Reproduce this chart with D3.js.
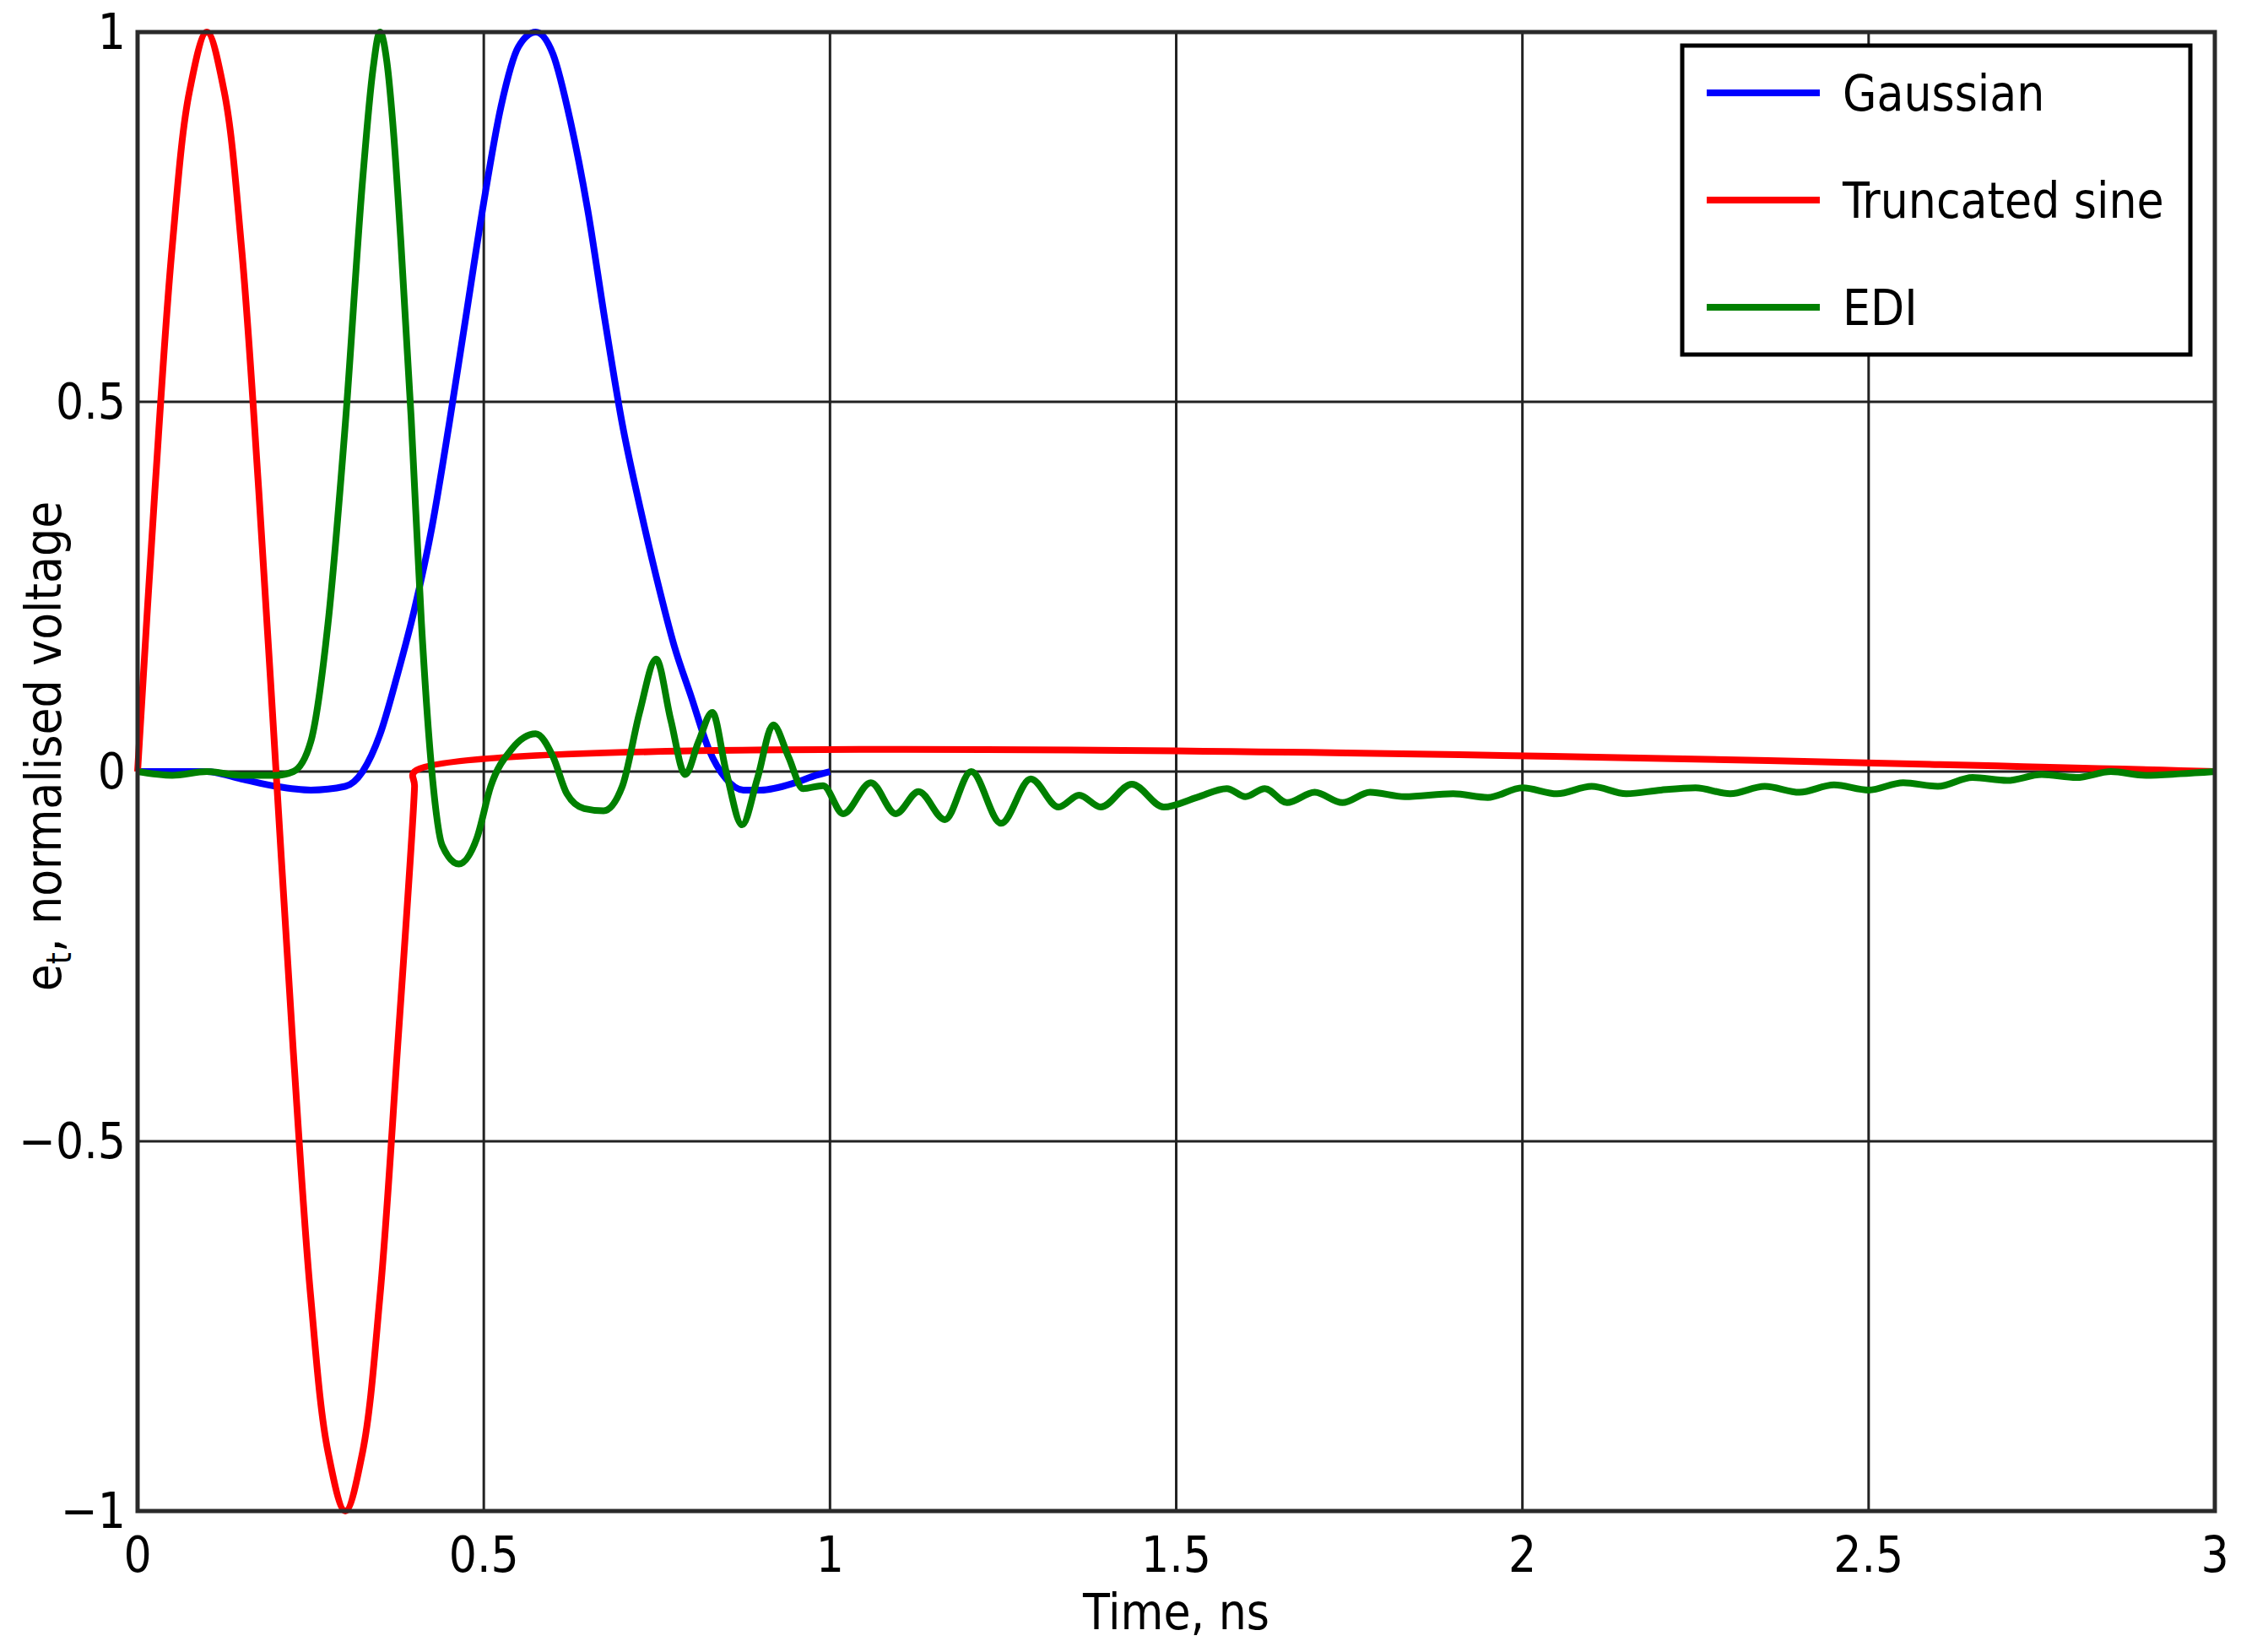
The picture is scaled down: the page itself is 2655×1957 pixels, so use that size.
<!DOCTYPE html>
<html>
<head>
<meta charset="utf-8">
<script src="https://cdn.jsdelivr.net/npm/d3@7"></script>
<style>
  body { margin: 0; background: #fff; }
  text { font-family: "Liberation Sans Narrow", "DejaVu Sans Condensed", "Liberation Sans", sans-serif; fill: #000; }
</style>
</head>
<body>
<svg id="chart" width="2655" height="1957"></svg>
<script>
// ticks
var xTicks = [0, 0.5, 1, 1.5, 2, 2.5, 3];
var xTickLabels = ["0", "0.5", "1", "1.5", "2", "2.5", "3"];
var yTicks = [-1, -0.5, 0, 0.5, 1];
var yTickLabels = ["\u22121", "\u22120.5", "0", "0.5", "1"];

// Gaussian pulse
var gaussT = [0, 0.1, 0.15, 0.2, 0.25, 0.3, 0.325, 0.35, 0.375, 0.4, 0.425, 0.45, 0.475, 0.5, 0.525, 0.55, 0.575, 0.6, 0.625, 0.65, 0.675, 0.7, 0.725, 0.75, 0.775, 0.8, 0.825, 0.85, 0.875, 0.9, 0.95, 0.98, 1.0];
var gaussV = [0, 0, -0.01, -0.02, -0.025, -0.02, 0, 0.05, 0.13, 0.22, 0.33, 0.47, 0.62, 0.77, 0.9, 0.98, 1.0, 0.97, 0.88, 0.76, 0.61, 0.47, 0.36, 0.26, 0.17, 0.1, 0.03, -0.01, -0.025, -0.025, -0.015, -0.005, 0];

// truncated sine
var sineT = [0, 0.025, 0.05, 0.075, 0.1, 0.125, 0.15, 0.175, 0.2, 0.225, 0.25, 0.275, 0.3, 0.325, 0.35, 0.375, 0.4, 0.4, 3.0];
var sineV = [0, 0.38, 0.71, 0.92, 1.0, 0.92, 0.71, 0.38, 0, -0.38, -0.71, -0.92, -1.0, -0.92, -0.71, -0.38, -0.02, 0, 0];

// EDI
var ediT = [0, 0.05, 0.1, 0.15, 0.2, 0.225, 0.25, 0.275, 0.3, 0.325, 0.34, 0.35, 0.36, 0.37, 0.38, 0.395, 0.41, 0.425, 0.44, 0.464, 0.49, 0.51, 0.54, 0.575, 0.6, 0.62, 0.645, 0.673, 0.7, 0.725, 0.749, 0.77, 0.791, 0.81, 0.83, 0.85, 0.873, 0.895, 0.918, 0.94, 0.961, 0.99, 1.019, 1.059, 1.095, 1.128, 1.166, 1.204, 1.247, 1.29, 1.33, 1.36, 1.391, 1.436, 1.482, 1.53, 1.573, 1.6, 1.628, 1.66, 1.7, 1.74, 1.78, 1.83, 1.9, 1.95, 2.0, 2.05, 2.1, 2.15, 2.2, 2.25, 2.3, 2.35, 2.4, 2.45, 2.5, 2.55, 2.6, 2.65, 2.7, 2.75, 2.8, 2.85, 2.9, 2.95, 3.0];
var ediV = [0, -0.005, 0, -0.005, -0.005, 0, 0.04, 0.2, 0.47, 0.8, 0.95, 1.0, 0.96, 0.86, 0.72, 0.48, 0.2, 0.0, -0.1, -0.125, -0.09, -0.02, 0.03, 0.051, 0.02, -0.03, -0.05, -0.053, -0.02, 0.08, 0.152, 0.07, -0.004, 0.04, 0.08, 0.0, -0.072, -0.01, 0.063, 0.02, -0.023, -0.019, -0.057, -0.015, -0.057, -0.027, -0.065, 0.0, -0.07, -0.01, -0.048, -0.032, -0.048, -0.017, -0.048, -0.035, -0.023, -0.034, -0.023, -0.042, -0.028, -0.042, -0.028, -0.034, -0.03, -0.035, -0.022, -0.03, -0.02, -0.03, -0.025, -0.022, -0.03, -0.02, -0.028, -0.018, -0.025, -0.015, -0.02, -0.008, -0.012, -0.004, -0.008, 0.0, -0.005, -0.003, 0.0];

var seriesNames = ["Gaussian", "Truncated sine", "EDI"];
var seriesColors = ["#0000ff", "#ff0000", "#008000"];
var seriesCurves = [d3.curveMonotoneX, d3.curveCatmullRom.alpha(0.5), d3.curveMonotoneX];

var svg = d3.select("#chart");
var m = { left: 163, right: 2624, top: 38, bottom: 1790 };

var x = d3.scaleLinear().domain([0, 3]).range([m.left, m.right]);
var y = d3.scaleLinear().domain([-1, 1]).range([m.bottom, m.top]);

// grid
svg.append("g").selectAll("line.gx")
	.data(xTicks.slice(1, -1))
	.enter().append("line")
		.attr("x1", function(d) { return x(d); }).attr("x2", function(d) { return x(d); })
		.attr("y1", m.top).attr("y2", m.bottom)
		.attr("stroke", "#222").attr("stroke-width", 3);
svg.append("g").selectAll("line.gy")
	.data(yTicks.slice(1, -1))
	.enter().append("line")
		.attr("x1", m.left).attr("x2", m.right)
		.attr("y1", function(d) { return y(d); }).attr("y2", function(d) { return y(d); })
		.attr("stroke", "#222").attr("stroke-width", 3);

// curves: blue, red, then green on top
var series = [d3.zip(gaussT, gaussV), d3.zip(sineT, sineV), d3.zip(ediT, ediV)];
svg.append("g").selectAll("path")
	.data(series)
	.enter().append("path")
		.attr("d", function(d, i) {
			return d3.line()
				.x(function(p) { return x(p[0]); })
				.y(function(p) { return y(p[1]); })
				.curve(seriesCurves[i])(d);
		})
		.attr("fill", "none")
		.attr("stroke", function(d, i) { return seriesColors[i]; })
		.attr("stroke-width", 8);

// axes box
svg.append("rect")
	.attr("x", m.left).attr("y", m.top)
	.attr("width", m.right - m.left).attr("height", m.bottom - m.top)
	.attr("fill", "none").attr("stroke", "#2a2a2a").attr("stroke-width", 5);

// tick labels
svg.append("g").selectAll("text")
	.data(xTicks)
	.enter().append("text")
		.attr("x", function(d) { return x(d); })
		.attr("y", m.bottom + 72)
		.attr("text-anchor", "middle")
		.attr("font-size", 58)
		.text(function(d, i) { return xTickLabels[i]; });
svg.append("g").selectAll("text")
	.data(yTicks)
	.enter().append("text")
		.attr("x", m.left - 14)
		.attr("y", function(d) { return y(d) + 20; })
		.attr("text-anchor", "end")
		.attr("font-size", 58)
		.text(function(d, i) { return yTickLabels[i]; });

// axis titles
svg.append("text")
	.attr("x", (m.left + m.right) / 2).attr("y", 1930)
	.attr("text-anchor", "middle").attr("font-size", 58)
	.text("Time, ns");
var yl = svg.append("text")
	.attr("transform", "translate(72," + ((m.top + m.bottom) / 2 - 30) + ") rotate(-90)")
	.attr("text-anchor", "middle").attr("font-size", 58);
yl.append("tspan").text("e");
yl.append("tspan").attr("font-size", 40).attr("dy", 12).text("t");
yl.append("tspan").attr("dy", -12).text(", normalised voltage");

// legend
var lg = svg.append("g");
lg.append("rect")
	.attr("x", 1993).attr("y", 54).attr("width", 602).attr("height", 366)
	.attr("fill", "#fff").attr("stroke", "#000").attr("stroke-width", 5);
var entries = lg.selectAll("g.entry")
	.data(seriesNames)
	.enter().append("g")
		.attr("transform", function(d, i) { return "translate(0," + (110 + i * 127) + ")"; });
entries.append("line")
	.attr("x1", 2022).attr("x2", 2156).attr("y1", 0).attr("y2", 0)
	.attr("stroke", function(d, i) { return seriesColors[i]; })
	.attr("stroke-width", 8);
entries.append("text")
	.attr("x", 2183).attr("y", 21)
	.attr("font-size", 58)
	.text(function(d) { return d; });
</script>
</body>
</html>
